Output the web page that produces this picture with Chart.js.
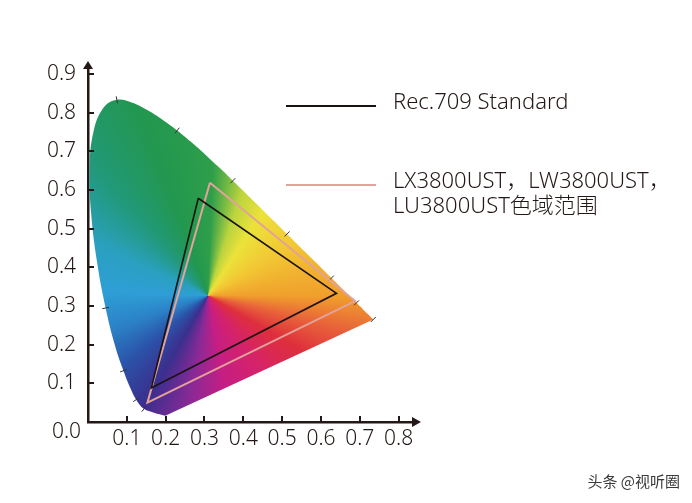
<!DOCTYPE html>
<html>
<head>
<meta charset="utf-8">
<script src="https://cdn.jsdelivr.net/npm/chart.js@4"></script>
<style>
  html, body { margin: 0; padding: 0; background: #fff; }
  #wrap { width: 692px; height: 503px; position: relative; }
</style>
</head>
<body>
<div id="wrap"><canvas id="cie"></canvas></div>
<script>
// CIE 1931 spectral locus (as drawn in the picture), violet end first; the
// purple line closes the shape
const locusX = [0.199, 0.170, 0.144, 0.1241, 0.1096, 0.0913, 0.0687, 0.0454, 0.0235, 0.0082, 0.0039, 0.0139, 0.0389, 0.0743, 0.1142, 0.1547, 0.1929, 0.2296, 0.2658, 0.3016, 0.3373, 0.3731, 0.4087, 0.4441, 0.4788, 0.5125, 0.5448, 0.5752, 0.6029, 0.6270, 0.6482, 0.6658, 0.6915, 0.7079, 0.7190, 0.7347];
const locusY = [0.016, 0.024, 0.034, 0.0578, 0.0868, 0.1327, 0.2007, 0.2950, 0.4127, 0.5384, 0.6548, 0.7502, 0.8120, 0.8338, 0.8262, 0.8059, 0.7816, 0.7543, 0.7243, 0.6923, 0.6589, 0.6245, 0.5896, 0.5547, 0.5202, 0.4866, 0.4544, 0.4242, 0.3965, 0.3725, 0.3514, 0.3340, 0.3083, 0.2920, 0.2809, 0.2653];

// small wavelength marks on the locus
const markX = [0.144, 0.1241, 0.0913, 0.0454, 0.0743, 0.2296, 0.3731, 0.5125, 0.6270, 0.6915, 0.7347];
const markY = [0.034, 0.0578, 0.1327, 0.2950, 0.8338, 0.7543, 0.6245, 0.4866, 0.3725, 0.3083, 0.2653];

// gamut triangles (G, R, B, back to G)
const rec709X = [0.284, 0.640, 0.163, 0.284];
const rec709Y = [0.579, 0.333, 0.088, 0.579];
const lxX = [0.314, 0.688, 0.153, 0.314];
const lxY = [0.619, 0.313, 0.050, 0.619];

const whitePoint = [0.309, 0.327];

const xTickValues = [0.1, 0.2, 0.3, 0.4, 0.5, 0.6, 0.7, 0.8];
const yTickValues = [0.1, 0.2, 0.3, 0.4, 0.5, 0.6, 0.7, 0.8, 0.9];

const labels = ['Rec.709 Standard', 'LX3800UST，LW3800UST，\nLU3800UST色域范围'];

const ink = '#231815';
const fontFamily = '"Noto Sans", "Noto Sans CJK SC", sans-serif';

const toPoints = (xs, ys) => xs.map((x, i) => ({ x: x, y: ys[i] }));

// colour wheel round the white point (angle in degrees, clockwise from right)
const wheel = [
    [0, '#f0a02c'], [14, '#e8623a'], [30, '#de2f3c'], [55, '#d5226a'],
    [80, '#c51e84'], [100, '#8a2996'], [120, '#3b2f8e'], [140, '#2b52a8'],
    [160, '#2b80c6'], [182, '#2e9ed6'], [205, '#2aa0c0'], [228, '#22997a'],
    [250, '#22974f'], [272, '#2e9e4a'], [288, '#bcd43e'], [303, '#ece23a'],
    [330, '#f2c634'], [360, '#f0a02c']
];

function locusFill(context) {
    const chart = context.chart;
    if (!chart.chartArea) return 'rgba(0,0,0,0)';
    const cx = chart.scales.x.getPixelForValue(whitePoint[0]);
    const cy = chart.scales.y.getPixelForValue(whitePoint[1]);
    const g = chart.ctx.createConicGradient(0, cx, cy);
    wheel.forEach(s => g.addColorStop(s[0] / 360, s[1]));
    return g;
}

// turn each wavelength mark across the locus
function markRotation(context) {
    const i = context.dataIndex;
    if (i === undefined) return 0;
    let best = 0, bd = Infinity;
    locusX.forEach((x, k) => {
        const d = Math.hypot(x - markX[i], locusY[k] - markY[i]);
        if (d < bd) { bd = d; best = k; }
    });
    const a = Math.max(best - 1, 0), b = Math.min(best + 1, locusX.length - 1);
    const dx = (locusX[b] - locusX[a]);
    const dy = -(locusY[b] - locusY[a]);
    return Math.atan2(dy, dx) * 180 / Math.PI + 90;
}

const decor = {
    id: 'decor',
    afterDraw(chart) {
        const ctx = chart.ctx;
        const a = chart.chartArea;
        const xs = chart.scales.x, ys = chart.scales.y;
        ctx.save();
        ctx.fillStyle = ink;
        ctx.strokeStyle = ink;

        // arrow heads
        ctx.beginPath();
        ctx.moveTo(a.left, a.top - 7);
        ctx.lineTo(a.left - 5, a.top + 1);
        ctx.lineTo(a.left + 5, a.top + 1);
        ctx.closePath();
        ctx.fill();
        ctx.beginPath();
        ctx.moveTo(a.right + 8, a.bottom);
        ctx.lineTo(a.right - 1, a.bottom - 5);
        ctx.lineTo(a.right - 1, a.bottom + 5);
        ctx.closePath();
        ctx.fill();

        // inward tick marks
        ctx.lineWidth = 2;
        ctx.beginPath();
        xTickValues.forEach(v => {
            const px = Math.round(xs.getPixelForValue(v));
            ctx.moveTo(px, a.bottom);
            ctx.lineTo(px, a.bottom - 6);
        });
        yTickValues.forEach(v => {
            const py = Math.round(ys.getPixelForValue(v));
            ctx.moveTo(a.left, py);
            ctx.lineTo(a.left + 6, py);
        });
        ctx.stroke();

        // origin label
        ctx.font = '300 21px ' + fontFamily;
        ctx.textAlign = 'right';
        ctx.textBaseline = 'middle';
        ctx.fillText('0.0', a.left - 7, a.bottom + 10);

        // legend
        const rows = [106, 185];
        chart.data.datasets.slice(0, 2).forEach((ds, i) => {
            const y = rows[i];
            ctx.strokeStyle = ds.borderColor;
            ctx.lineWidth = 2;
            ctx.beginPath();
            ctx.moveTo(286, y);
            ctx.lineTo(376, y);
            ctx.stroke();
            ctx.fillStyle = ink;
            ctx.textAlign = 'left';
            ctx.font = '300 22px ' + fontFamily;
            ds.label.split('\n').forEach((t, j) => {
                ctx.fillText(t, 393, y - 3 + j * 25);
            });
        });

        // watermark
        ctx.font = '15px "Noto Sans CJK SC", sans-serif';
        ctx.fillStyle = '#3a3a3a';
        ctx.textAlign = 'right';
        ctx.fillText('头条 @视听圈', 680, 481);
        ctx.restore();
    }
};

new Chart(document.getElementById('cie'), {
    type: 'scatter',
    data: {
        datasets: [
            {
                label: labels[0],
                data: toPoints(rec709X, rec709Y),
                showLine: true,
                borderColor: '#1a1311',
                borderWidth: 1.6,
                pointRadius: 0,
                fill: false,
                order: 0
            },
            {
                label: labels[1],
                data: toPoints(lxX, lxY),
                showLine: true,
                borderColor: '#e3a29a',
                borderWidth: 2,
                pointRadius: 0,
                fill: false,
                order: 1
            },
            {
                label: 'marks',
                data: toPoints(markX, markY),
                showLine: false,
                pointStyle: 'line',
                pointRadius: 3.5,
                pointBorderWidth: 1,
                pointBorderColor: '#333',
                rotation: markRotation,
                order: 2
            },
            {
                label: 'locus',
                data: toPoints(locusX, locusY),
                showLine: true,
                borderWidth: 0,
                borderColor: 'rgba(0,0,0,0)',
                backgroundColor: locusFill,
                pointRadius: 0,
                tension: 0.4,
                fill: 'shape',
                order: 3
            }
        ]
    },
    options: {
        responsive: true,
        maintainAspectRatio: false,
        animation: false,
        layout: { padding: { left: 0, right: 279, top: 68, bottom: 0 } },
        plugins: { legend: { display: false }, tooltip: { enabled: false } },
        scales: {
            x: {
                type: 'linear',
                min: 0,
                max: 0.837,
                grid: { display: false, drawTicks: false },
                border: { color: ink, width: 2.5 },
                afterFit: s => { s.height = 81; },
                afterBuildTicks: s => { s.ticks = xTickValues.map(v => ({ value: v })); },
                ticks: {
                    padding: 4,
                    color: ink,
                    maxRotation: 0,
                    autoSkip: false,
                    font: { family: fontFamily, size: 21, weight: 300 },
                    callback: v => v.toFixed(1)
                }
            },
            y: {
                type: 'linear',
                min: 0,
                max: 0.916,
                grid: { display: false, drawTicks: false },
                border: { color: ink, width: 2.5 },
                afterFit: s => { s.width = 88; },
                afterBuildTicks: s => { s.ticks = yTickValues.map(v => ({ value: v })); },
                ticks: {
                    padding: 12,
                    color: ink,
                    autoSkip: false,
                    font: { family: fontFamily, size: 21, weight: 300 },
                    callback: v => v.toFixed(1)
                }
            }
        }
    },
    plugins: [decor]
});
</script>
</body>
</html>
